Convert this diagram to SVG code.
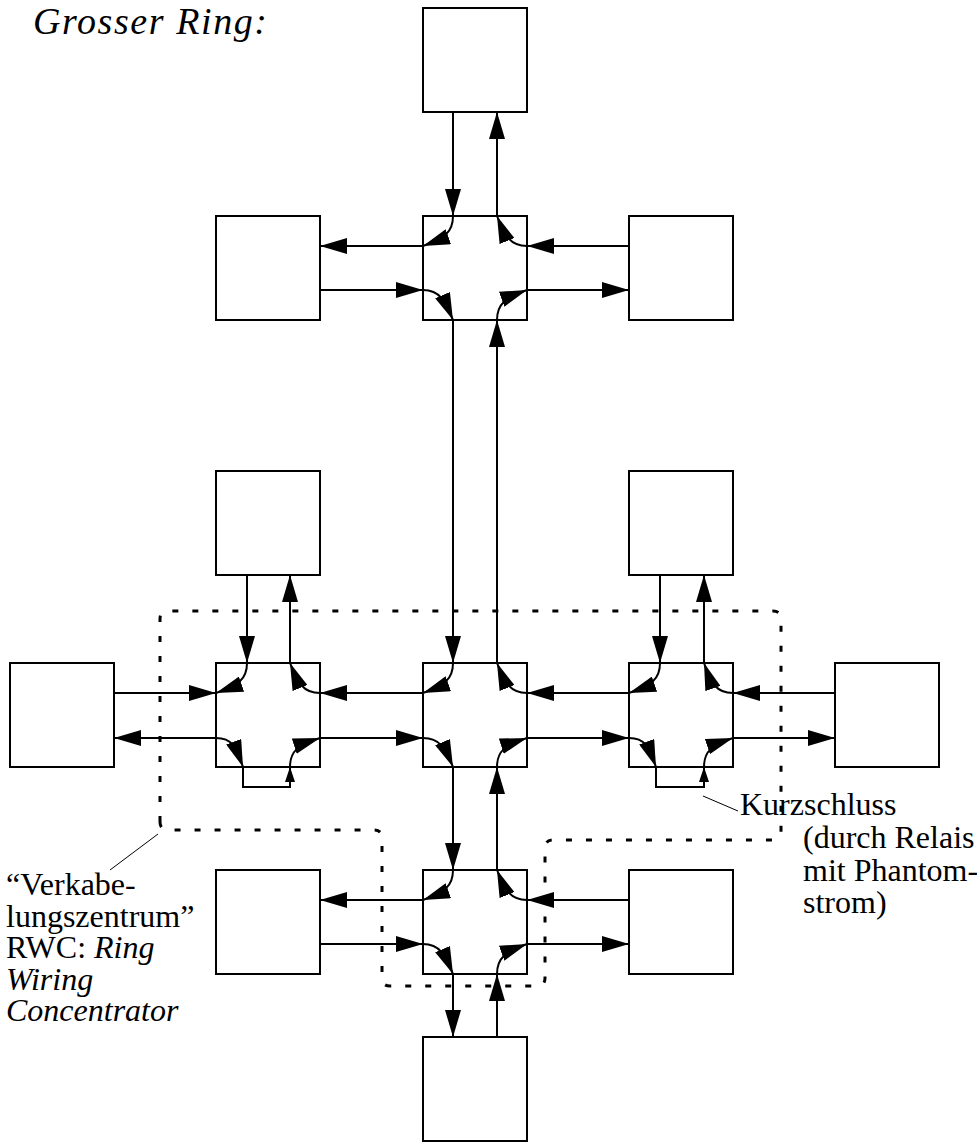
<svg xmlns="http://www.w3.org/2000/svg" width="977" height="1142" viewBox="0 0 977 1142">
<style>
.box{fill:#fff;stroke:#000;stroke-width:2}
.c{fill:none;stroke:#000;stroke-width:2;marker-end:url(#ah)}
.sc{fill:none;stroke:#000;stroke-width:2;marker-end:url(#as)}
.dot{fill:none;stroke:#000;stroke-width:3;stroke-dasharray:6 14}
.lead{fill:none;stroke:#000;stroke-width:1}
</style>
<defs>
<marker id="ah" markerUnits="userSpaceOnUse" markerWidth="28" markerHeight="16" refX="27" refY="8" orient="auto">
<path d="M0,0 L27,8 L0,16 z" fill="#000"/>
</marker>
<marker id="as" markerUnits="userSpaceOnUse" markerWidth="16" markerHeight="10" refX="15" refY="5" orient="auto">
<path d="M0,0 L15,5 L0,10 z" fill="#000"/>
</marker>
</defs>

<g id="title" font-family="'Liberation Serif', 'Times New Roman', 'DejaVu Serif', serif" fill="#000">
<text x="33" y="34" font-size="38" font-style="italic" textLength="234" lengthAdjust="spacing">Grosser Ring:</text>
</g>

<g id="rwc-outline">
<path class="dot" d="M160,822 V619 Q160,611 168,611 H773 Q781,611 781,619 V832 Q781,840 773,840 H553 Q545,840 545,848 V978 Q545,986 537,986 H390 Q382,986 382,978 V838 Q382,830 374,830 H168 Q160,830 160,822"/>
</g>

<g id="node-top"><rect class="box" x="423" y="8" width="104" height="104"/></g>
<g id="node-top-left"><rect class="box" x="216" y="216" width="104" height="104"/></g>
<g id="node-top-right"><rect class="box" x="629" y="216" width="104" height="104"/></g>
<g id="node-mid-left-up"><rect class="box" x="216" y="471" width="104" height="104"/></g>
<g id="node-mid-right-up"><rect class="box" x="629" y="471" width="104" height="104"/></g>
<g id="node-far-left"><rect class="box" x="10" y="663" width="104" height="104"/></g>
<g id="node-far-right"><rect class="box" x="835" y="663" width="104" height="104"/></g>
<g id="node-bottom-left"><rect class="box" x="216" y="870" width="104" height="104"/></g>
<g id="node-bottom-right"><rect class="box" x="629" y="870" width="104" height="104"/></g>
<g id="node-bottom"><rect class="box" x="423" y="1037" width="104" height="104"/></g>

<g id="hub-top"><rect class="box" x="423" y="216" width="104" height="104"/>
<path class="c" d="M453,216 C453,232 445,238 423,246"/>
<path class="c" d="M527,246 C510,246 505,236 497,216"/>
<path class="c" d="M423,290 C440,290 445,301 453,320"/>
<path class="c" d="M497,320 C497,304 505,298 527,290"/>
</g>
<g id="hub-center"><rect class="box" x="423" y="663" width="104" height="104"/>
<path class="c" d="M453,663 C453,679 445,685 423,693"/>
<path class="c" d="M527,693 C510,693 505,683 497,663"/>
<path class="c" d="M423,738 C440,738 445,748 453,767"/>
<path class="c" d="M497,767 C497,751 505,745 527,738"/>
</g>
<g id="hub-left"><rect class="box" x="216" y="663" width="104" height="104"/>
<path class="c" d="M247,663 C247,679 239,685 216,693"/>
<path class="c" d="M320,693 C303,693 298,683 290,663"/>
<path class="c" d="M216,738 C233,738 236,748 243,767"/>
<path class="c" d="M290,767 C290,751 298,745 320,738"/>
</g>
<g id="hub-right"><rect class="box" x="629" y="663" width="104" height="104"/>
<path class="c" d="M660,663 C660,679 652,685 629,693"/>
<path class="c" d="M733,693 C716,693 711,683 704,663"/>
<path class="c" d="M629,738 C646,738 649,748 656,767"/>
<path class="c" d="M704,767 C704,751 712,745 733,738"/>
</g>
<g id="hub-bottom"><rect class="box" x="423" y="870" width="104" height="104"/>
<path class="c" d="M453,870 C453,886 445,892 423,900"/>
<path class="c" d="M527,900 C510,900 505,890 497,870"/>
<path class="c" d="M423,944 C440,944 445,955 453,974"/>
<path class="c" d="M497,974 C497,958 505,952 527,944"/>
</g>

<g id="connectors">
<path class="c" d="M453,112 V216"/>
<path class="c" d="M497,216 V112"/>
<path class="c" d="M423,246 H320"/>
<path class="c" d="M320,290 H423"/>
<path class="c" d="M629,246 H527"/>
<path class="c" d="M527,290 H629"/>
<path class="c" d="M453,320 V663"/>
<path class="c" d="M497,663 V320"/>
<path class="c" d="M423,693 H320"/>
<path class="c" d="M320,738 H423"/>
<path class="c" d="M629,693 H527"/>
<path class="c" d="M527,738 H629"/>
<path class="c" d="M453,767 V870"/>
<path class="c" d="M497,870 V767"/>
<path class="c" d="M247,575 V663"/>
<path class="c" d="M290,663 V575"/>
<path class="c" d="M114,693 H216"/>
<path class="c" d="M216,738 H114"/>
<path class="c" d="M660,575 V663"/>
<path class="c" d="M704,663 V575"/>
<path class="c" d="M835,693 H733"/>
<path class="c" d="M733,738 H835"/>
<path class="c" d="M423,900 H320"/>
<path class="c" d="M320,944 H423"/>
<path class="c" d="M629,900 H527"/>
<path class="c" d="M527,944 H629"/>
<path class="c" d="M453,974 V1037"/>
<path class="c" d="M497,1037 V974"/>
<path class="sc" d="M243,767 V787 H290 V767"/>
<path class="sc" d="M656,767 V787 H704 V767"/>
<path class="lead" d="M110,870 L158,834"/>
<path class="lead" d="M703,796 L738,811"/>
</g>

<g id="label-rwc" font-family="'Liberation Serif', 'Times New Roman', 'DejaVu Serif', serif" font-size="32" fill="#000">
<text x="6" y="895">“Verkabe-</text>
<text x="6" y="927">lungszentrum”</text>
<text x="6" y="958">RWC: <tspan font-style="italic">Ring</tspan></text>
<text x="6" y="990" font-style="italic">Wiring</text>
<text x="6" y="1021" font-style="italic">Concentrator</text>
</g>
<g id="label-kurzschluss" font-family="'Liberation Serif', 'Times New Roman', 'DejaVu Serif', serif" font-size="32" fill="#000">
<text x="740" y="815">Kurzschluss</text>
<text x="803" y="848">(durch Relais</text>
<text x="803" y="881">mit Phantom-</text>
<text x="803" y="913">strom)</text>
</g>
</svg>
